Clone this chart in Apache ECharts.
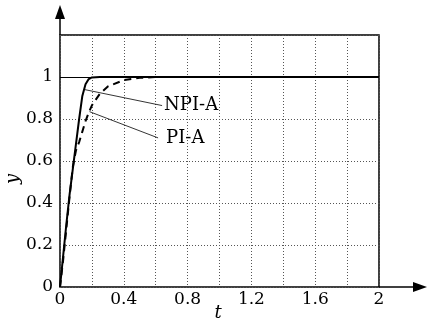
<!DOCTYPE html>
<html>
<head>
<meta charset="utf-8">
<script src="https://cdn.jsdelivr.net/npm/echarts@6/dist/echarts.min.js"></script>
<style>
  html, body { margin: 0; padding: 0; background: #fff; }
  #chart { width: 427px; height: 324px; }
</style>
</head>
<body>
<div id="chart"></div>
<script>
// step responses
const tNpi = [0, 0.02, 0.04, 0.06, 0.08, 0.1, 0.12, 0.14, 0.16, 0.18, 0.2, 0.25, 0.3, 0.5, 1, 1.5, 2];
const yNpi = [0, 0.15, 0.3, 0.44, 0.56, 0.68, 0.8, 0.91, 0.965, 0.99, 0.998, 1, 1, 1, 1, 1, 1];
const tPi = [0, 0.02, 0.04, 0.06, 0.08, 0.1, 0.12, 0.14, 0.16, 0.18, 0.2, 0.25, 0.3, 0.4, 0.5, 0.6, 1, 1.5, 2];
const yPi = [0, 0.13, 0.28, 0.43, 0.57, 0.65, 0.69, 0.74, 0.79, 0.83, 0.865, 0.92, 0.955, 0.985, 0.996, 1, 1, 1, 1];

// annotation pointers: [from (on curve), to (near label)] in data units
const npiPointer = [[0.155, 0.94], [0.64, 0.864]];
const piPointer = [[0.185, 0.835], [0.615, 0.71]];
const labelGap = [2, 8];

const FONT = "DejaVu Serif";
const zip = (xs, ys) => xs.map((x, i) => [x, ys[i]]);

const chart = echarts.init(document.getElementById("chart"));

chart.setOption({
  animation: false,
  grid: {
    left: 60, right: 48, top: 35, bottom: 37,
    show: true, borderColor: "#000", borderWidth: 1.5, backgroundColor: "transparent",
  },
  xAxis: {
    type: "value", min: 0, max: 2, interval: 0.2,
    axisLine: { show: false },
    axisTick: { show: false },
    splitLine: { lineStyle: { color: "#555", type: [1, 2], width: 1 } },
    axisLabel: {
      margin: 4, color: "#000", fontFamily: FONT, fontSize: 17,
      formatter: (v) => {
        const k = v / 0.4;
        return Math.abs(k - Math.round(k)) < 1e-6 ? String(+v.toFixed(1)) : "";
      },
    },
  },
  yAxis: {
    type: "value", min: 0, max: 1.2, interval: 0.2,
    axisLine: { show: false },
    axisTick: { show: false },
    splitLine: { lineStyle: { color: "#555", type: [1, 2], width: 1 } },
    axisLabel: {
      margin: 7, color: "#000", fontFamily: FONT, fontSize: 17,
      formatter: (v) => (v > 1.1 ? "" : String(+v.toFixed(1))),
    },
  },
  series: [
    {
      name: "NPI-A", type: "line", data: zip(tNpi, yNpi), showSymbol: false,
      lineStyle: { color: "#000", width: 2 }, z: 4,
      markLine: {
        silent: true, symbol: "none", label: { show: false },
        lineStyle: { color: "#000", type: "solid", width: 1 },
        data: [{ yAxis: 1 }],
      },
    },
    {
      name: "PI-A", type: "line", data: zip(tPi, yPi), showSymbol: false,
      lineStyle: { color: "#000", width: 2, type: [7, 5] }, z: 3,
    },
  ],
});

// axis arrows, pointer lines and labels
const px = (p) => chart.convertToPixel({ gridIndex: 0 }, p);
const origin = px([0, 0]);
const gridTop = px([0, 1.2]);
const gridRight = px([2, 0]);
const arrowW = 5;
const yTip = 5, xTip = 427;
const graphics = [
  { type: "line", shape: { x1: origin[0], y1: gridTop[1], x2: origin[0], y2: yTip + 10 }, style: { stroke: "#000", lineWidth: 1.5 } },
  { type: "polygon", shape: { points: [[origin[0], yTip], [origin[0] - arrowW, yTip + 14], [origin[0] + arrowW, yTip + 14]] }, style: { fill: "#000" } },
  { type: "line", shape: { x1: gridRight[0], y1: origin[1], x2: xTip - 10, y2: origin[1] }, style: { stroke: "#000", lineWidth: 1.5 } },
  { type: "polygon", shape: { points: [[xTip, origin[1]], [xTip - 14, origin[1] - arrowW], [xTip - 14, origin[1] + arrowW]] }, style: { fill: "#000" } },
];
[[npiPointer, "NPI-A"], [piPointer, "PI-A"]].forEach(([seg, name], i) => {
  const a = px(seg[0]), b = px(seg[1]);
  graphics.push({ type: "line", shape: { x1: a[0], y1: a[1], x2: b[0], y2: b[1] }, style: { stroke: "#000", lineWidth: 0.8 }, z: 10 });
  graphics.push({
    type: "text", x: b[0] + labelGap[i], y: b[1],
    style: { text: name, fill: "#000", font: `18px "${FONT}"`, textVerticalAlign: "middle", textAlign: "left" }, z: 10,
  });
});
graphics.push({
  type: "text", x: 218, y: 313,
  style: { text: "t", fill: "#000", font: `italic 18px "${FONT}"`, textAlign: "center", textVerticalAlign: "middle" },
});
graphics.push({
  type: "text", x: 13, y: 179, rotation: Math.PI / 2,
  style: { text: "y", fill: "#000", font: `italic 18px "${FONT}"`, textAlign: "center", textVerticalAlign: "middle" },
});
chart.setOption({ graphic: graphics });
</script>
</body>
</html>
